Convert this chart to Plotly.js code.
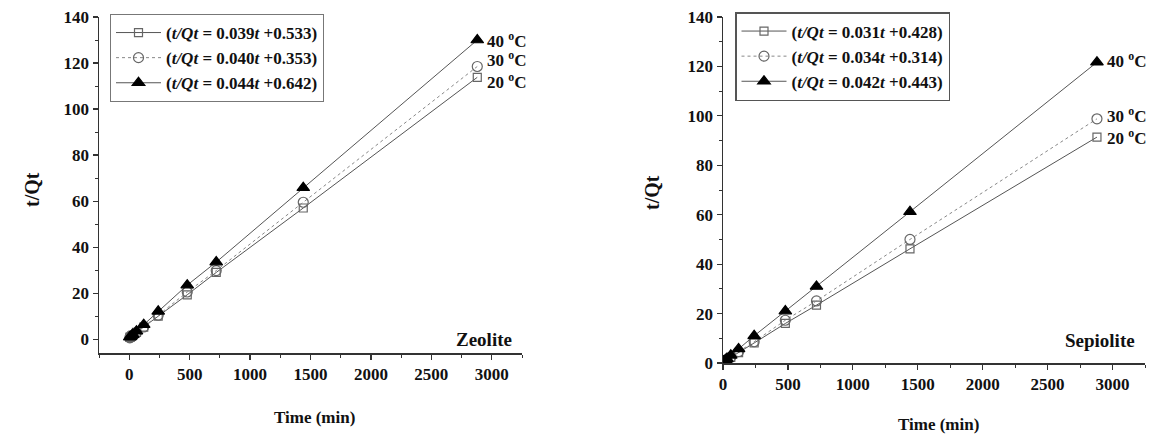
<!DOCTYPE html>
<html>
<head>
<meta charset="utf-8">
<script src="https://cdn.plot.ly/plotly-3.0.1.min.js"></script>
<style>html,body{margin:0;padding:0;background:#fff;}#chart{width:1156px;height:436px;}</style>
</head>
<body>
<div id="chart"></div>
<script>
// Time points (min)
const time = [5, 10, 20, 30, 60, 120, 240, 480, 720, 1440, 2880];

// Zeolite t/Qt
const zeolite20 = [0.8, 1.0, 1.4, 1.8, 3.0, 5.2, 10.0, 19.3, 29.0, 57.0, 113.8];
const zeolite30 = [0.6, 0.8, 1.2, 1.6, 2.9, 5.3, 10.4, 20.5, 29.8, 59.5, 118.5];
const zeolite40 = [0.9, 1.1, 1.6, 2.0, 3.5, 6.3, 12.1, 23.5, 33.5, 65.8, 130.0];

// Sepiolite t/Qt
const sepiolite20 = [0.6, 0.8, 1.1, 1.4, 2.3, 4.2, 8.1, 16.0, 23.4, 46.2, 91.4];
const sepiolite30 = [0.5, 0.7, 1.0, 1.3, 2.4, 4.6, 8.6, 17.3, 25.1, 50.0, 98.8];
const sepiolite40 = [0.7, 0.9, 1.3, 1.7, 3.1, 5.7, 11.0, 21.0, 31.0, 61.2, 121.7];

// Tick labels
const xTicks = [0, 500, 1000, 1500, 2000, 2500, 3000];
const yTicks = [0, 20, 40, 60, 80, 100, 120, 140];

const zeoliteLegend = ['(<i>t/Qt</i> = 0.039<i>t</i> +0.533)', '(<i>t/Qt</i> = 0.040<i>t</i> +0.353)', '(<i>t/Qt</i> = 0.044<i>t</i> +0.642)'];
const sepioliteLegend = ['(<i>t/Qt</i> = 0.031<i>t</i> +0.428)', '(<i>t/Qt</i> = 0.034<i>t</i> +0.314)', '(<i>t/Qt</i> = 0.042<i>t</i> +0.443)'];
const tempLabels = ['20 <sup>o</sup>C', '30 <sup>o</sup>C', '40 <sup>o</sup>C'];
const panelNames = ['Zeolite', 'Sepiolite'];
const axisTitleX = 'Time (min)';
const axisTitleY = 't/Qt';

const serif = '"Liberation Serif", "DejaVu Serif", serif';
const styles = [
  {symbol: 'square-open', size: 8, mcolor: '#666', lcolor: '#555', dash: 'solid'},
  {symbol: 'circle-open', size: 10, mcolor: '#666', lcolor: '#888', dash: 'dot'},
  {symbol: 'triangle-up', size: 11, mcolor: '#000', lcolor: '#555', dash: 'solid'}
];

function mk(x, y, i, name, xa, ya, legend) {
  const s = styles[i];
  return {
    x: x, y: y, type: 'scatter', mode: 'lines+markers', name: name,
    xaxis: xa, yaxis: ya, legend: legend,
    line: {color: s.lcolor, width: 1, dash: s.dash},
    marker: {symbol: s.symbol, size: s.size, color: s.mcolor, line: {color: s.mcolor, width: 1.2}}
  };
}

const zData = [zeolite20, zeolite30, zeolite40];
const sData = [sepiolite20, sepiolite30, sepiolite40];
const traces = [];
zData.forEach((d, i) => traces.push(mk(time, d, i, zeoliteLegend[i], 'x', 'y', 'legend')));
sData.forEach((d, i) => traces.push(mk(time, d, i, sepioliteLegend[i], 'x2', 'y2', 'legend2')));

const tickFont = {family: serif, size: 17, color: '#111', weight: 700};
const bold = v => '<b>' + v + '</b>';
function xax(domain) {
  return {
    domain: domain, range: [domain[0] < 0.3 ? -250 : 0, 3250],
    tickmode: 'array', tickvals: xTicks, ticktext: xTicks.map(bold),
    showline: true, linecolor: '#333', linewidth: 1.5, ticks: 'outside', ticklen: 5, tickwidth: 1.2, tickcolor: '#333',
    minor: {dtick: 250, tick0: 0, ticks: 'outside', ticklen: 3, tickwidth: 1, tickcolor: '#333'},
    showgrid: false, zeroline: false, tickfont: tickFont, automargin: false
  };
}
function yax(domain, range, anchor) {
  return {
    domain: domain, range: range, anchor: anchor,
    tickmode: 'array', tickvals: yTicks, ticktext: yTicks.map(bold),
    showline: true, linecolor: '#333', linewidth: 1.5, ticks: 'outside', ticklen: 5, tickwidth: 1.2, tickcolor: '#333',
    minor: {dtick: 10, tick0: 0, ticks: 'outside', ticklen: 3, tickwidth: 1, tickcolor: '#333'},
    showgrid: false, zeroline: false, tickfont: tickFont, automargin: false
  };
}

const annFont = {family: serif, size: 17, color: '#111', weight: 700};
const annotations = [];
const tempShift = [[-4, 7, 0], [0, 4, 2]];
[[zData, 'x', 'y'], [sData, 'x2', 'y2']].forEach(([data, xr, yr], p) => {
  data.forEach((d, i) => {
    annotations.push({
      x: time[time.length - 1], y: d[d.length - 1], xref: xr, yref: yr,
      text: tempLabels[i], showarrow: false, xanchor: 'left', yanchor: 'middle',
      xshift: 8, yshift: tempShift[p][i], font: annFont
    });
  });
  annotations.push({
    x: 1, y: 0, xref: xr + ' domain', yref: yr + ' domain', text: panelNames[p], showarrow: false,
    xanchor: 'right', yanchor: 'bottom', xshift: -8, yshift: p === 0 ? 1 : 10,
    font: {family: serif, size: 19, color: '#111', weight: 700}
  });
});
// axis titles
const titleFont = {family: serif, size: 17, color: '#111', weight: 700};
annotations.push({x: 314 / 1156, y: 1 - 417 / 436, xref: 'paper', yref: 'paper', text: axisTitleX, showarrow: false,
  xanchor: 'center', yanchor: 'middle', font: titleFont});
annotations.push({x: 938 / 1156, y: 1 - 424 / 436, xref: 'paper', yref: 'paper', text: axisTitleX, showarrow: false,
  xanchor: 'center', yanchor: 'middle', font: titleFont});
annotations.push({x: 32 / 1156, y: 1 - 190 / 436, xref: 'paper', yref: 'paper', text: axisTitleY, showarrow: false,
  textangle: -90, xanchor: 'center', yanchor: 'middle', font: {family: serif, size: 20, color: '#111', weight: 700}});
annotations.push({x: 652 / 1156, y: 1 - 193 / 436, xref: 'paper', yref: 'paper', text: axisTitleY, showarrow: false,
  textangle: -90, xanchor: 'center', yanchor: 'middle', font: {family: serif, size: 20, color: '#111', weight: 700}});

const legFont = {family: serif, size: 17, color: '#111', weight: 700};
const layout = {
  width: 1156, height: 436,
  margin: {l: 0, r: 0, t: 0, b: 0},
  paper_bgcolor: '#fff', plot_bgcolor: '#fff',
  showlegend: true,
  xaxis: Object.assign(xax([99 / 1156, 522 / 1156]), {anchor: 'y'}),
  yaxis: yax([1 - 353 / 436, 1 - 17 / 436], [-6, 140], 'x'),
  xaxis2: Object.assign(xax([723 / 1156, 1145 / 1156]), {anchor: 'y2'}),
  yaxis2: yax([1 - 363 / 436, 1 - 17 / 436], [0, 140], 'x2'),
  legend: {x: 110 / 1156, y: 1 - 14 / 436, xanchor: 'left', yanchor: 'top', bordercolor: '#777', borderwidth: 1,
    bgcolor: '#fff', font: legFont, tracegroupgap: 0, itemwidth: 45},
  legend2: {x: 735 / 1156, y: 1 - 12 / 436, xanchor: 'left', yanchor: 'top', bordercolor: '#555', borderwidth: 1.5,
    bgcolor: '#fff', font: legFont, tracegroupgap: 0, itemwidth: 45},
  annotations: annotations
};

Plotly.newPlot('chart', traces, layout, {displayModeBar: false, staticPlot: true});
</script>
</body>
</html>
